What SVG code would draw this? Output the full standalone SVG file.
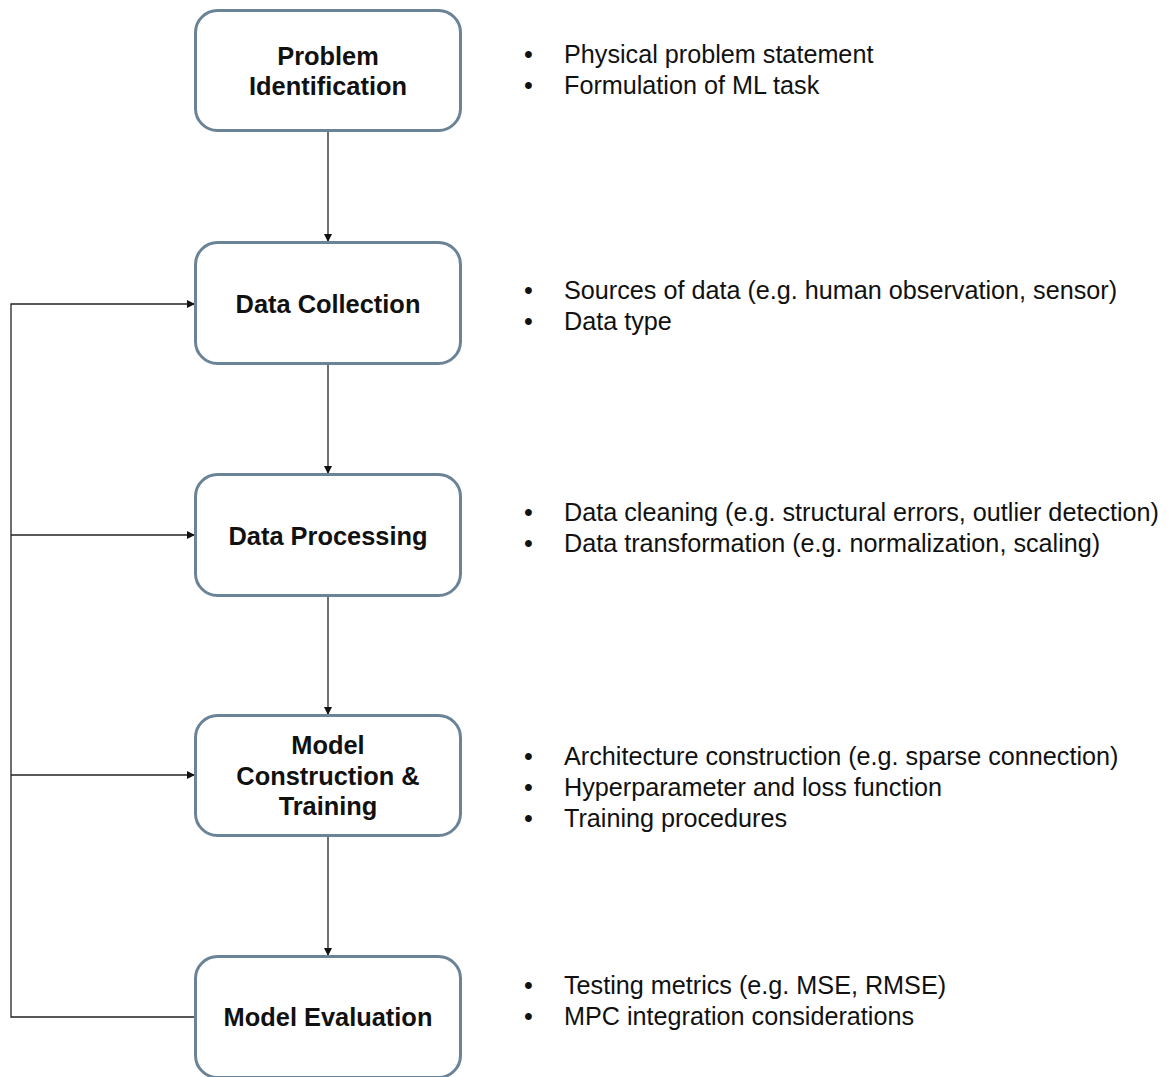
<svg xmlns="http://www.w3.org/2000/svg" width="1173" height="1077" viewBox="0 0 1173 1077">
<style>
.box{fill:#fff;stroke:#6b8396;stroke-width:3}
.t{font-family:"Liberation Sans",Arial,sans-serif;font-size:25.4px;font-weight:bold;fill:#111;text-anchor:middle}
.b{font-family:"Liberation Sans",Arial,sans-serif;font-size:25.2px;fill:#111}
.c{fill:none;stroke:#222;stroke-width:1.3}
</style>
<defs>
<marker id="ah" viewBox="0 0 10 10" refX="10" refY="5" markerWidth="8" markerHeight="8" markerUnits="userSpaceOnUse" orient="auto">
<path d="M0,0 L10,5 L0,10 z" fill="#111"/>
</marker>
</defs>
<rect width="1173" height="1077" fill="#fff"/>
<g id="connectors">
<line class="c" x1="328" y1="131" x2="328" y2="242" marker-end="url(#ah)"/>
<line class="c" x1="328" y1="364" x2="328" y2="474" marker-end="url(#ah)"/>
<line class="c" x1="328" y1="596" x2="328" y2="715" marker-end="url(#ah)"/>
<line class="c" x1="328" y1="836" x2="328" y2="956" marker-end="url(#ah)"/>
<polyline class="c" points="195,1017 11,1017 11,304 195,304" marker-end="url(#ah)"/>
<line class="c" x1="11" y1="535" x2="195" y2="535" marker-end="url(#ah)"/>
<line class="c" x1="11" y1="775" x2="195" y2="775" marker-end="url(#ah)"/>
</g>
<g id="n1">
<rect class="box" x="195.5" y="10.5" width="265" height="120" rx="22"/>
<text class="t" x="328" y="65">Problem</text>
<text class="t" x="328" y="95">Identification</text>
</g>
<g id="n2">
<rect class="box" x="195.5" y="242.5" width="265" height="121" rx="22"/>
<text class="t" x="328" y="313">Data Collection</text>
</g>
<g id="n3">
<rect class="box" x="195.5" y="474.5" width="265" height="121" rx="22"/>
<text class="t" x="328" y="545">Data Processing</text>
</g>
<g id="n4">
<rect class="box" x="195.5" y="715.5" width="265" height="120" rx="22"/>
<text class="t" x="328" y="754">Model</text>
<text class="t" x="328" y="785">Construction &amp;</text>
<text class="t" x="328" y="815">Training</text>
</g>
<g id="n5">
<rect class="box" x="195.5" y="956.5" width="265" height="121" rx="22"/>
<text class="t" x="328" y="1026">Model Evaluation</text>
</g>
<g id="notes">
<text class="b" x="524" y="63">•</text><text class="b" x="564" y="63">Physical problem statement</text>
<text class="b" x="524" y="94">•</text><text class="b" x="564" y="94">Formulation of ML task</text>
<text class="b" x="524" y="299">•</text><text class="b" x="564" y="299">Sources of data (e.g. human observation, sensor)</text>
<text class="b" x="524" y="330">•</text><text class="b" x="564" y="330">Data type</text>
<text class="b" x="524" y="521">•</text><text class="b" x="564" y="521">Data cleaning (e.g. structural errors, outlier detection)</text>
<text class="b" x="524" y="552">•</text><text class="b" x="564" y="552">Data transformation (e.g. normalization, scaling)</text>
<text class="b" x="524" y="765">•</text><text class="b" x="564" y="765">Architecture construction (e.g. sparse connection)</text>
<text class="b" x="524" y="796">•</text><text class="b" x="564" y="796">Hyperparameter and loss function</text>
<text class="b" x="524" y="827">•</text><text class="b" x="564" y="827">Training procedures</text>
<text class="b" x="524" y="994">•</text><text class="b" x="564" y="994">Testing metrics (e.g. MSE, RMSE)</text>
<text class="b" x="524" y="1025">•</text><text class="b" x="564" y="1025">MPC integration considerations</text>
</g>
</svg>
